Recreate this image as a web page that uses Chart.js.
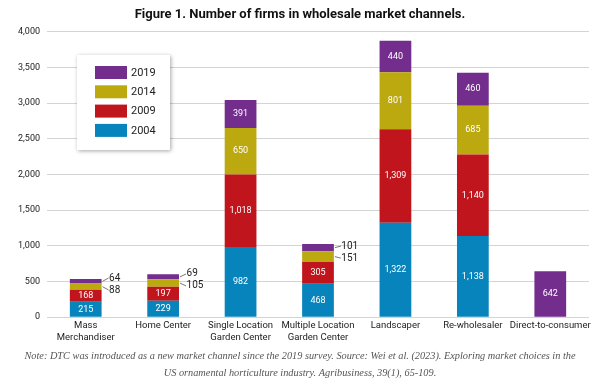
<!DOCTYPE html>
<html>
<head>
<meta charset="utf-8">
<script src="https://cdn.jsdelivr.net/npm/chart.js@4.4.1/dist/chart.umd.min.js"></script>
<style>
  html,body{margin:0;padding:0;background:#fff;}
  #wrap{width:600px;height:385px;position:relative;}
</style>
</head>
<body>
<div id="wrap"><canvas id="c"></canvas></div>
<script>
// données
const channels = [
  ['Mass','Merchandiser'], ['Home Center'], ['Single Location','Garden Center'],
  ['Multiple Location','Garden Center'], ['Landscaper'], ['Re-wholesaler'], ['Direct-to-consumer']
];
const years = ['2004','2009','2014','2019'];
const firms2004 = [215, 229, 982, 468, 1322, 1138, null];
const firms2009 = [168, 197, 1018, 305, 1309, 1140, null];
const firms2014 = [88, 105, 650, 151, 801, 685, null];
const firms2019 = [64, 69, 391, 101, 440, 460, 642];
const yTicks = [0, 500, 1000, 1500, 2000, 2500, 3000, 3500, 4000];
const colors = ['#0784bb', '#c0151c', '#bba90f', '#732d8c'];
const noteLines = [
  'Note: DTC was introduced as a new market channel since the 2019 survey. Source: Wei et al. (2023). Exploring market choices in the',
  'US ornamental horticulture industry. Agribusiness, 39(1), 65-109.'
];

const fmtN = v => v.toLocaleString('en-US');

// étiquettes : dedans en blanc, ou à droite avec un petit trait si le segment est trop petit
const labelPlugin = {
  id: 'segLabels',
  afterDatasetsDraw(chart){
    const ctx = chart.ctx;
    const n = chart.data.labels.length;
    ctx.save();
    for(let i=0;i<n;i++){
      const outside = [];
      chart.data.datasets.forEach((ds, di)=>{
        const v = ds.data[i];
        if(v==null) return;
        const el = chart.getDatasetMeta(di).data[i];
        const cy = (el.y + el.base)/2;
        if(v < 160){
          outside.push({v, cy, right: el.x + el.width/2});
        } else {
          ctx.fillStyle = '#fff';
          ctx.font = '9px Roboto';
          ctx.textAlign = 'center';
          ctx.textBaseline = 'middle';
          ctx.fillText(fmtN(v), el.x, cy);
        }
      });
      if(outside.length){
        // outside[0] = 2014 (plus bas), outside[1] = 2019
        const ys = outside.map(o=>o.cy);
        if(outside.length===2){
          const mid = (ys[0]+ys[1])/2;
          ys[1] = Math.min(ys[1], mid-6);
          ys[0] = Math.max(ys[0], mid+6);
        }
        outside.forEach((o,k)=>{
          ctx.strokeStyle = '#555';
          ctx.lineWidth = 0.8;
          ctx.beginPath();
          ctx.moveTo(o.right+1, o.cy);
          ctx.lineTo(o.right+7, ys[k]);
          ctx.stroke();
          ctx.fillStyle = '#222';
          ctx.font = '10px Roboto';
          ctx.textAlign = 'left';
          ctx.textBaseline = 'middle';
          ctx.fillText(fmtN(o.v), o.right+7.5, ys[k]);
        });
      }
    }
    ctx.restore();
  }
};

// légende encadrée avec ombre, ordre inversé
const boxLegend = {
  id: 'boxLegend',
  afterDraw(chart){
    const ctx = chart.ctx;
    const x = 77, y = 55, w = 93, h = 95;
    ctx.save();
    ctx.shadowColor = 'rgba(0,0,0,0.35)';
    ctx.shadowBlur = 4;
    ctx.shadowOffsetX = 1;
    ctx.shadowOffsetY = 1;
    ctx.fillStyle = '#fff';
    ctx.fillRect(x, y, w, h);
    ctx.restore();
    ctx.save();
    const dsets = chart.data.datasets.slice().reverse();
    dsets.forEach((ds,k)=>{
      const sy = 66 + k*19.3;
      ctx.fillStyle = ds.backgroundColor;
      ctx.fillRect(95, sy, 32, 13);
      ctx.fillStyle = '#222';
      ctx.font = '11px Roboto';
      ctx.textAlign = 'left';
      ctx.textBaseline = 'middle';
      ctx.fillText(ds.label, 131, sy + 7);
    });
    ctx.restore();
  }
};

const series = [firms2004, firms2009, firms2014, firms2019];

new Chart(document.getElementById('c'), {
  type: 'bar',
  data: {
    labels: channels,
    datasets: years.map((yr,i)=>({
      label: yr,
      data: series[i],
      backgroundColor: colors[i],
      borderWidth: 0,
      barPercentage: 0.41,
      categoryPercentage: 1
    }))
  },
  options: {
    responsive: true,
    maintainAspectRatio: false,
    animation: false,
    layout: { padding: { left: 11, right: 11, top: 0, bottom: 0 } },
    plugins: {
      legend: { display: false },
      tooltip: { enabled: false },
      title: {
        display: true,
        text: 'Figure 1. Number of firms in wholesale market channels.',
        color: '#111',
        font: { family: 'Roboto', size: 13, weight: 'bold' },
        padding: { top: 7, bottom: 9 }
      },
      subtitle: {
        display: true,
        position: 'bottom',
        text: noteLines,
        color: '#555',
        font: { family: 'Liberation Serif', size: 10.3, style: 'italic', lineHeight: 1.65 },
        padding: { top: 2, bottom: 3 }
      }
    },
    scales: {
      x: {
        stacked: true,
        grid: { display: false, drawTicks: false },
        border: { display: false },
        ticks: { color: '#222', font: { family: 'Roboto', size: 9.5 }, maxRotation: 0, autoSkip: false, padding: 3 }
      },
      y: {
        stacked: true,
        min: 0,
        max: 4000,
        afterBuildTicks(axis){ axis.ticks = yTicks.map(v=>({value:v})); },
        grid: { color: '#d4d4d4', drawTicks: false },
        border: { display: false },
        ticks: { color: '#222', font: { family: 'Roboto', size: 9 }, padding: 7, callback: v => fmtN(v) }
      }
    }
  },
  plugins: [labelPlugin, boxLegend]
});
</script>
</body>
</html>
